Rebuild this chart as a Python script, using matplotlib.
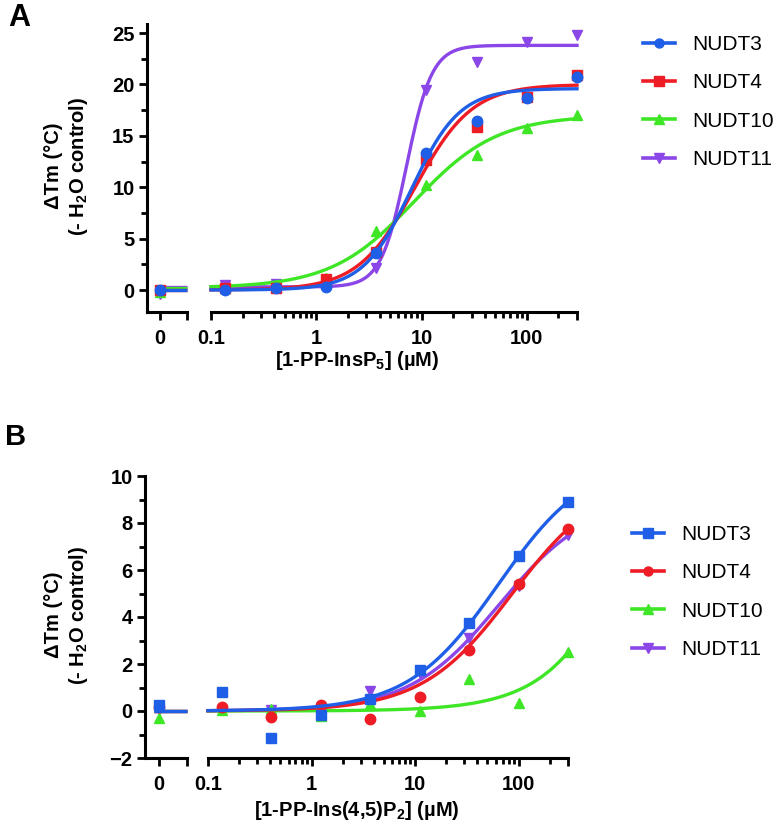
import matplotlib
matplotlib.use('Agg')
import matplotlib.pyplot as plt
import numpy as np

plt.rcParams['font.family'] = ['Liberation Sans', 'DejaVu Sans']
plt.rcParams['mathtext.fontset'] = 'custom'
plt.rcParams['mathtext.rm'] = 'Liberation Sans:bold'
plt.rcParams['mathtext.bf'] = 'Liberation Sans:bold'
plt.rcParams['mathtext.it'] = 'Liberation Sans:bold'
plt.rcParams['mathtext.default'] = 'bf'

# concentrations (uM), 3-fold dilution series, plus the 0 control
conc = [0.137, 0.41, 1.23, 3.7, 11.1, 33.3, 100, 300]
names = ['NUDT3', 'NUDT4', 'NUDT10', 'NUDT11']
colors = ['#1f5ee6', '#ee1c25', '#3ee626', '#8a46e6']

# panel A: 1-PP-InsP5
a_zero = [0.0, 0.0, -0.2, -0.35]
a_nudt3 = [0.0, 0.2, 0.3, 3.6, 13.3, 16.4, 18.7, 20.7]
a_nudt4 = [0.2, 0.2, 1.1, 3.7, 12.6, 15.9, 18.8, 20.9]
a_nudt10 = [0.2, 0.4, 1.2, 5.7, 10.2, 13.1, 15.8, 17.0]
a_nudt11 = [0.5, 0.6, 0.5, 2.1, 19.5, 22.2, 24.1, 24.8]
# fitted curves: bottom, top, EC50, hill slope
a_fit = [(0.0, 19.6, 8.0, 1.9), (0.0, 20.0, 8.7, 1.6),
         (0.2, 17.0, 8.5, 1.1), (0.3, 23.8, 7.2, 3.6)]
a_markers = ['o', 's', '^', 'v']

# panel B: 1-PP-Ins(4,5)P2
b_zero = [0.25, 0.15, -0.3, 0.1]
b_nudt3 = [0.8, -1.15, -0.15, 0.5, 1.75, 3.75, 6.6, 8.9]
b_nudt4 = [0.15, -0.25, 0.25, -0.35, 0.6, 2.6, 5.4, 7.75]
b_nudt10 = [0.05, 0.1, -0.2, 0.3, 0.0, 1.35, 0.35, 2.5]
b_nudt11 = [0.05, 0.05, 0.1, 0.85, 1.6, 3.1, 5.3, 7.5]
b_fit = [(0.0, 10.8, 64, 1.0), (0.0, 10.0, 87, 1.0),
         (0.0, 25.0, 2700, 1.0), (0.0, 9.06, 65, 1.0)]
b_markers = ['s', 'o', '^', 'v']

W, H = 784, 835
fig = plt.figure(figsize=(W / 100, H / 100), dpi=100)


def hill(x, p):
    b, t, ec, h = p
    return b + (t - b) / (1 + (ec / x) ** h)


def panel(box, zero, series, fits, markers, ylim, ymaj, ymin_step, xlab, xlab_dy, leg_xy):
    x0, x1, x2, x3, ytop, ybot = box
    bottom = 1 - ybot / H
    height = (ybot - ytop) / H
    axl = fig.add_axes([x0 / W, bottom, (x1 - x0) / W, height])
    axr = fig.add_axes([x2 / W, bottom, (x3 - x2) / W, height], sharey=axl)
    lxmax = 2.1
    xs = np.logspace(-1, np.log10(300), 300)
    handles = []
    for i in reversed(range(4)):
        c = colors[i]
        axl.plot([-0.3, lxmax], [fits[i][0]] * 2, color=c, lw=2.4,
                 solid_capstyle='butt', clip_on=False)
        axl.plot([0], [zero[i]], marker=markers[i], color=c, ms=7.5,
                 ls='none', clip_on=False)
        axr.plot(xs, hill(xs, fits[i]), color=c, lw=2.4, clip_on=False)
        axr.plot(conc, series[i], marker=markers[i], color=c, ms=7.5,
                 ls='none', clip_on=False)
        h, = axr.plot([], [], color=c, lw=2.6, marker=markers[i], ms=6.5)
        handles.insert(0, h)

    axl.set_ylim(*ylim)
    axl.set_xlim(-1, lxmax)
    axr.set_xscale('log')
    axr.set_xlim(0.1, 300)

    for ax in (axl, axr):
        for s in ('top', 'right'):
            ax.spines[s].set_visible(False)
        for s in ('left', 'bottom'):
            ax.spines[s].set_linewidth(2.2)
        ax.tick_params(which='major', length=6, width=2.0, labelsize=14.5)
        ax.tick_params(which='minor', length=4, width=2.0)
    axr.spines['left'].set_visible(False)
    axr.tick_params(axis='y', which='both', left=False, labelleft=False)

    axl.set_yticks(np.arange(ylim[0] if ylim[0] % ymaj == 0 else 0, ylim[1] + 0.01, ymaj))
    axl.set_yticks(np.arange(ymin_step, ylim[1], ymin_step * 2) if ymaj == 5 else
                   np.arange(ylim[0] + ymin_step, ylim[1], ymaj), minor=True)
    axl.tick_params(axis='y', pad=3)
    axl.set_xticks([0, lxmax])
    axl.set_xticklabels(['0', ''])
    axl.tick_params(axis='x', pad=6)

    axr.set_xticks([0.1, 1, 10, 100, 300])
    axr.set_xticklabels(['0.1', '1', '10', '100', ''])
    minor = [m * d for d in (0.1, 1, 10) for m in range(2, 10)] + [200]
    axr.set_xticks(minor, minor=True)
    axr.xaxis.set_minor_formatter(plt.NullFormatter())
    axr.tick_params(axis='x', pad=6)

    for ax in (axl, axr):
        for lab in ax.get_xticklabels() + ax.get_yticklabels():
            lab.set_fontweight('bold')

    ymid = 1 - ((ytop + ybot) / 2 - 2) / H
    fig.text(53 / W, ymid, 'ΔTm (°C)', rotation=90, ha='center', va='center',
             fontsize=14.5, fontweight='bold')
    fig.text(79 / W, ymid, '(- H$_2$O control)', rotation=90, ha='center',
             va='center', fontsize=14.5, fontweight='bold')
    fig.text(357 / W, 1 - (ybot + xlab_dy) / H, xlab, ha='center', va='center',
             fontsize=14.5, fontweight='bold')

    fig.legend(handles, names, loc='upper left',
               bbox_to_anchor=(leg_xy[0] / W, 1 - leg_xy[1] / H),
               frameon=False, fontsize=15, handlelength=1.55,
               handletextpad=0.8, labelspacing=0.93, borderpad=0,
               borderaxespad=0)


panel((147, 187, 211, 577, 24, 312), a_zero,
      [a_nudt3, a_nudt4, a_nudt10, a_nudt11], a_fit, a_markers,
      (-2.14, 25.88), 5, 2.5, '[1-PP-InsP$_5$] (µM)', 48, (643, 35))
panel((145, 187, 208, 568, 476, 758), b_zero,
      [b_nudt3, b_nudt4, b_nudt10, b_nudt11], b_fit, b_markers,
      (-2, 10), 2, 1, '[1-PP-Ins(4,5)P$_2$] (µM)', 53, (632, 525))

fig.text(8 / W, 1 - 3 / H, 'A', fontsize=22, fontweight='bold', va='top')
fig.text(5 / W, 1 - 423 / H, 'B', fontsize=21, fontweight='bold', va='top')

fig.savefig('out.png', dpi=100)
